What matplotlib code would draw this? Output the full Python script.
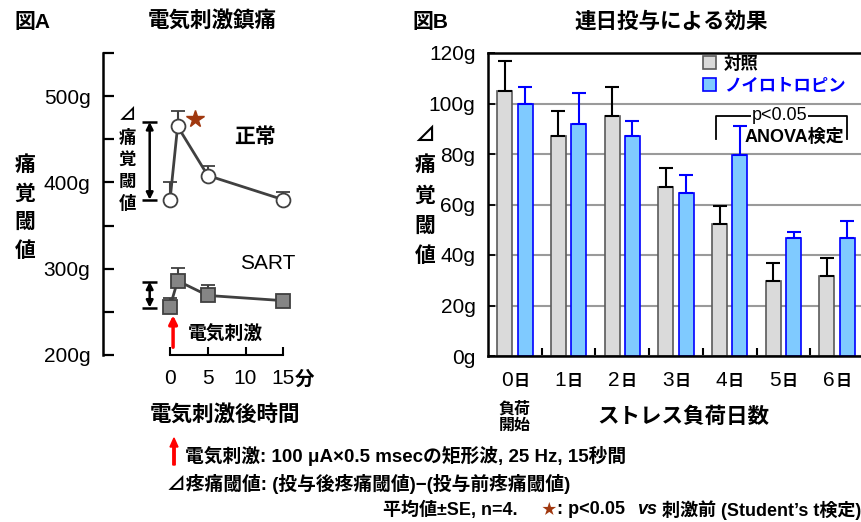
import numpy as np
import matplotlib.pyplot as plt
from matplotlib.patches import FancyArrow

plt.rcParams['font.family'] = ['Liberation Sans', 'Noto Sans CJK JP', 'DejaVu Sans']
JP = ['Noto Sans CJK JP', 'DejaVu Sans']

# 図A データ
t_min = [0, 1, 5, 15]
normal_mean = [380, 465, 408, 380]
normal_se = [21, 18, 11, 9]
sart_mean = [256, 286, 269, 263]
sart_se = [10, 15, 12, 0]

# 図B データ
days = [0, 1, 2, 3, 4, 5, 6]
ctrl_mean = [105, 87, 95, 67, 52.3, 29.7, 31.7]
ctrl_se = [12, 10, 11.5, 7.5, 7, 7, 7]
neuro_mean = [100, 92, 87, 64.5, 79.6, 46.7, 46.7]
neuro_se = [6.5, 12, 6, 7.2, 11.4, 2.3, 6.8]

W, H = 862, 522
BROWN = '#A0380F'


def px(x, y):
    return x / W, 1 - y / H


fig = plt.figure(figsize=(W / 100, H / 100), dpi=100)

################################################################################
#                                   図A                                        #
################################################################################
axA = fig.add_axes([103 / W, (H - 355) / H, 227 / W, 302 / H])
axA.set_xlim(-8.89, 21.2)
axA.set_ylim(200, 550)
for s in ['top', 'right']:
    axA.spines[s].set_visible(False)
axA.spines['left'].set_linewidth(1.8)
axA.spines['bottom'].set_linewidth(1.5)
axA.spines['bottom'].set_bounds(0, 15)
axA.set_yticks([200, 250, 300, 350, 400, 450, 500, 550])
axA.set_yticklabels(['200g', '', '300g', '', '400g', '', '500g', ''])
axA.set_xticks([0, 5, 10, 15])
axA.set_xticklabels(['0', '5', '10', '15'])
axA.tick_params(axis='y', direction='in', length=8, width=1.6, pad=9, labelsize=15)
axA.tick_params(axis='x', direction='in', length=6, width=1.5, pad=10, labelsize=15)

axA.errorbar(t_min, normal_mean, yerr=[np.zeros(4), normal_se], color='#404040',
             lw=2, marker='o', ms=10, mfc='white', mec='#404040', mew=1.3,
             capsize=5, elinewidth=1.5, capthick=1.5, zorder=3)
axA.errorbar(t_min, sart_mean, yerr=[np.zeros(4), sart_se], color='#404040',
             lw=2, marker='s', ms=9.5, mfc='#858585', mec='#404040', mew=1.3,
             capsize=5, elinewidth=1.5, capthick=1.5, zorder=3)
axA.plot([3.3], [473], marker='*', color=BROWN, ms=13, ls='none')

# ⊿痛覚閾値 の矢印
for y0, y1 in [(380, 470), (255, 285)]:
    axA.annotate('', xy=(-2.7, y1), xytext=(-2.7, y0),
                 arrowprops=dict(arrowstyle='<|-|>', color='black', lw=1.8,
                                 shrinkA=0, shrinkB=0, mutation_scale=10))
    axA.hlines([y0, y1], -3.7, -1.7, color='black', lw=1.8)
axA.text(-5.7, 426, '⊿\n痛\n覚\n閾\n値', ha='center', va='center', fontsize=12.5,
         fontweight='bold', linespacing=1.3, family=JP)

axA.text(11.3, 453, '正常', ha='center', va='center', fontsize=15, fontweight='bold')
axA.text(12.9, 306, 'SART', ha='center', va='center', fontsize=15)

axA.annotate('', xy=(0.4, 246), xytext=(0.4, 209),
             arrowprops=dict(arrowstyle='-|>', color='red', lw=2.5,
                             shrinkA=0, shrinkB=0, mutation_scale=12))
axA.text(2.3, 223, '電気刺激', ha='left', va='center', fontsize=13.5, fontweight='bold')
axA.annotate('分', xy=(15, 0), xycoords=('data', 'axes fraction'), xytext=(15, -18),
             textcoords='offset points', ha='center', va='center', fontsize=14,
             fontweight='bold')

fig.text(*px(225, 416), '電気刺激後時間', ha='center', va='center', fontsize=15.5,
         fontweight='bold')
fig.text(*px(25, 208), '痛\n覚\n閾\n値', ha='center', va='center', fontsize=15,
         fontweight='bold', linespacing=1.6)
fig.text(*px(32, 22), '図A', ha='center', va='center', fontsize=15, fontweight='bold')
fig.text(*px(212, 22), '電気刺激鎮痛', ha='center', va='center', fontsize=15.5,
         fontweight='bold')

################################################################################
#                                   図B                                        #
################################################################################
axB = fig.add_axes([488 / W, (H - 356) / H, 376 / W, 303 / H])
axB.set_xlim(-0.5, 6.5)
axB.set_ylim(0, 120)
axB.spines['right'].set_visible(False)
for s in ['top', 'left', 'bottom']:
    axB.spines[s].set_linewidth(1.8)
axB.set_axisbelow(True)
axB.yaxis.grid(True, color='#9a9a9a', lw=1.5)
axB.set_yticks(np.arange(0, 121, 20))
axB.set_yticklabels([f'{v}g' for v in range(0, 121, 20)])
axB.tick_params(axis='y', direction='in', length=5, width=1.3, pad=9, labelsize=15)
axB.set_xticks(np.arange(0.5, 6, 1))
axB.set_xticklabels([])
axB.tick_params(axis='x', direction='in', length=6, width=1.5)

xd = np.array(days)
bw = 0.28
axB.bar(xd - 0.19, ctrl_mean, bw, color='#DADADA', edgecolor='#5a5a5a', lw=1.2,
        yerr=[np.zeros(7), ctrl_se], error_kw=dict(ecolor='black', elinewidth=1.5,
                                                    capsize=5, capthick=1.5),
        label='対照', zorder=2)
axB.bar(xd + 0.19, neuro_mean, bw, color='#7FCAFF', edgecolor='#0000FF', lw=1.2,
        yerr=[np.zeros(7), neuro_se], error_kw=dict(ecolor='#0000FF', elinewidth=1.5,
                                                     capsize=5, capthick=1.5),
        label='ノイロトロピン', zorder=2)

leg = axB.legend(loc='upper left', bbox_to_anchor=(0.572, 0.995), frameon=False,
                 borderpad=0, borderaxespad=0,
                 handlelength=0.75, handleheight=0.75, handletextpad=0.45,
                 labelspacing=0.4, prop=dict(size=12.5, weight='bold'))
leg.get_texts()[1].set_color('#0000FF')

for d in days:
    axB.annotate(str(d), xy=(d, 0), xycoords=('data', 'axes fraction'),
                 xytext=(-6, -17.5), textcoords='offset points', ha='center',
                 va='center', fontsize=15)
    axB.annotate('日', xy=(d, 0), xycoords=('data', 'axes fraction'),
                 xytext=(4.5, -18.5), textcoords='offset points', ha='center',
                 va='center', fontsize=11.5, fontweight='bold')
axB.annotate('負荷\n開始', xy=(0, 0), xycoords=('data', 'axes fraction'),
             xytext=(0, -44), textcoords='offset points', ha='center', va='center',
             fontsize=11.5, fontweight='bold', linespacing=1.15)

# ANOVA ブラケット
axB.plot([3.74, 3.74, 6.18, 6.18], [86, 95, 95, 86], color='black', lw=1.3)
axB.text(4.93, 95.3, 'p<0.05', ha='center', va='center', fontsize=13,
         bbox=dict(facecolor='white', edgecolor='none', pad=0.5))
axB.text(5.2, 86.8, 'ANOVA検定', ha='center', va='center', fontsize=13,
         fontweight='bold', bbox=dict(facecolor='white', edgecolor='none', pad=0.5))

fig.text(*px(683, 417), 'ストレス負荷日数', ha='center', va='center', fontsize=15.5,
         fontweight='bold')
fig.text(*px(425, 195), '⊿\n痛\n覚\n閾\n値', ha='center', va='center', fontsize=15,
         fontweight='bold', linespacing=1.55, family=JP)
fig.text(*px(430, 22), '図B', ha='center', va='center', fontsize=15, fontweight='bold')
fig.text(*px(671, 22), '連日投与による効果', ha='center', va='center', fontsize=15.5,
         fontweight='bold')

################################################################################
#                                   注記                                       #
################################################################################
fig.patches.append(FancyArrow(
    *px(174, 465), 0, 27 / H, width=2.4 / W, head_width=8 / W, head_length=9 / H,
    length_includes_head=True, color='red', transform=fig.transFigure))
fig.text(*px(185, 456), '電気刺激: 100 μA×0.5 msecの矩形波, 25 Hz, 15秒間',
         ha='left', va='center', fontsize=13.5, fontweight='bold')
fig.text(*px(167, 484), '⊿疼痛閾値: (投与後疼痛閾値)−(投与前疼痛閾値)',
         ha='left', va='center', fontsize=13.5, fontweight='bold')
fig.text(*px(383, 510), '平均値±SE, n=4.', ha='left', va='center', fontsize=13,
         fontweight='bold')
fig.text(*px(549, 510), '★', ha='center', va='center', fontsize=10.5, color=BROWN)
fig.text(*px(557, 510), ': p<0.05', ha='left', va='center', fontsize=13,
         fontweight='bold')
fig.text(*px(637, 510), 'vs', ha='left', va='center', fontsize=13,
         fontweight='bold', style='italic')
fig.text(*px(662, 510), '刺激前 (Student\u2019s t検定)', ha='left', va='center',
         fontsize=13, fontweight='bold')

fig.savefig('out.png', dpi=100)
